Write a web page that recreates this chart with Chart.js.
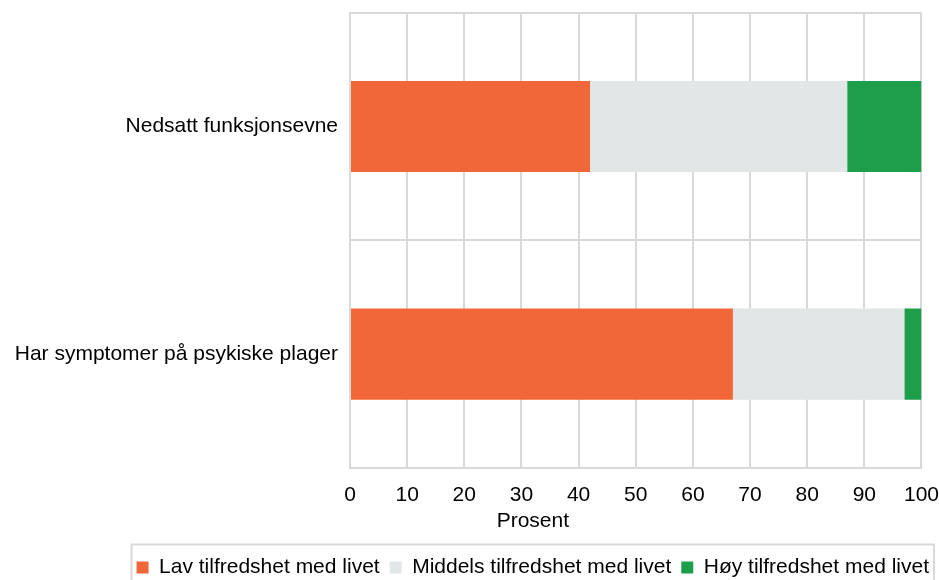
<!DOCTYPE html>
<html>
<head>
<meta charset="utf-8">
<script src="https://cdn.jsdelivr.net/npm/chart.js@4"></script>
<style>
  html, body { margin: 0; padding: 0; background: #fff; }
  #wrap { width: 939px; height: 580px; }
</style>
</head>
<body>
<div id="wrap"><canvas id="chart" width="939" height="580"></canvas></div>
<script>
// data
const categories = ['Nedsatt funksjonsevne', 'Har symptomer på psykiske plager'];
const seriesNames = ['Lav tilfredshet med livet', 'Middels tilfredshet med livet', 'Høy tilfredshet med livet'];
const lav = [42, 67];
const middels = [45, 30];
const hoy = [13, 3];
const xTicks = [0, 10, 20, 30, 40, 50, 60, 70, 80, 90, 100];

const colors = ['#f2673a', '#e1e6e6', '#1d9e4a'];
const gridColor = '#d9d9d9';
const font = "'Liberation Sans', Arial, sans-serif";
const fontSize = 21;

// axis title sits left of centre in the original, and the legend has a frame
const extras = {
    id: 'extras',
    afterDraw(chart) {
        const ctx = chart.ctx;
        const x = chart.scales.x;
        ctx.save();
        ctx.font = fontSize + 'px ' + font;
        ctx.fillStyle = '#000';
        ctx.textAlign = 'center';
        ctx.textBaseline = 'middle';
        ctx.fillText('Prosent', x.getPixelForValue(32), 521);

        const boxes = chart.legend.legendHitBoxes;
        if (boxes && boxes.length) {
            const left = Math.min(...boxes.map(b => b.left)) - 5;
            const right = Math.max(...boxes.map(b => b.left + b.width)) + 5;
            const mid = boxes[0].top + boxes[0].height / 2;
            ctx.strokeStyle = gridColor;
            ctx.lineWidth = 2;
            ctx.strokeRect(left, mid - 23, right - left, 60);
        }
        ctx.restore();
    }
};

new Chart(document.getElementById('chart'), {
    type: 'bar',
    data: {
        labels: categories,
        datasets: [
            { label: seriesNames[0], data: lav, backgroundColor: colors[0] },
            { label: seriesNames[1], data: middels, backgroundColor: colors[1] },
            { label: seriesNames[2], data: hoy, backgroundColor: colors[2] }
        ]
    },
    options: {
        indexAxis: 'y',
        responsive: false,
        animation: false,
        layout: { padding: { top: 0, right: 0, left: 0, bottom: -8 } },
        datasets: { bar: { barPercentage: 0.4, categoryPercentage: 1.0 } },
        scales: {
            x: {
                stacked: true,
                min: 0,
                max: 100,
                afterBuildTicks: s => { s.ticks = xTicks.map(v => ({ value: v })); },
                ticks: { color: '#000', font: { family: font, size: fontSize }, padding: 0 },
                grid: { color: gridColor, lineWidth: 2, drawTicks: true, tickLength: 15, tickColor: 'rgba(0,0,0,0)' },
                border: { color: gridColor, width: 2 },
                afterFit: s => { s.height = 79; }
            },
            y: {
                stacked: true,
                ticks: { color: '#000', font: { family: font, size: fontSize }, padding: 0 },
                grid: { color: gridColor, lineWidth: 2, drawTicks: true, tickLength: 12, tickColor: 'rgba(0,0,0,0)' },
                border: { color: gridColor, width: 2 },
                afterFit: s => { s.width = 350; }
            }
        },
        plugins: {
            legend: {
                position: 'bottom',
                align: 'end',
                labels: {
                    color: '#000',
                    font: { family: font, size: fontSize },
                    boxWidth: 12,
                    boxHeight: 12,
                    padding: 10
                }
            },
            tooltip: { enabled: false }
        }
    },
    plugins: [extras]
});
</script>
</body>
</html>
